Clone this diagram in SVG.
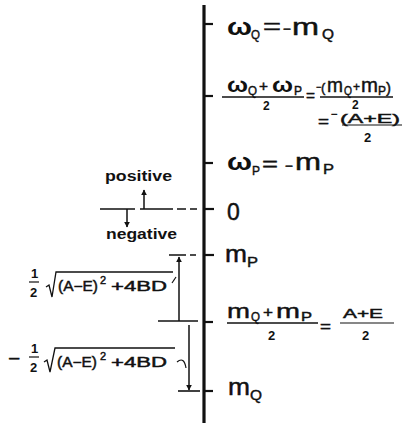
<svg xmlns="http://www.w3.org/2000/svg" width="418" height="426" viewBox="0 0 418 426">
<style>
text{font-family:"Liberation Sans",Arial,sans-serif;fill:#111}
.b{font-weight:bold}
.md{stroke:#111;stroke-width:0.45}
.ln{stroke:#111;fill:none}
.tk{stroke:#111;stroke-width:2.2}
</style>
<defs>
<marker id="ah" viewBox="0 0 10 10" refX="9" refY="5" markerWidth="6" markerHeight="7" orient="auto" markerUnits="userSpaceOnUse">
<path d="M0,0 L10,5 L0,10 z" fill="#111"/>
</marker>
</defs>
<rect width="418" height="426" fill="#fff"/>

<g id="axis">
<line x1="204" y1="5" x2="204" y2="423" stroke="#111" stroke-width="3.2"/>
<line class="tk" x1="204" y1="24" x2="213" y2="24"/>
<line class="tk" x1="204" y1="96" x2="213" y2="96"/>
<line class="tk" x1="204" y1="163" x2="213" y2="163"/>
<line class="tk" x1="204" y1="209" x2="214" y2="209" stroke-width="3"/>
<line class="tk" x1="204" y1="255" x2="214" y2="255"/>
<line class="tk" x1="204" y1="322" x2="213" y2="322"/>
<line class="tk" x1="204" y1="391" x2="213" y2="391"/>
</g>

<g id="omegaQ">
<text class="b" x="227" y="35" font-size="23" textLength="25" lengthAdjust="spacingAndGlyphs">ω</text>
<text class="md" x="251" y="39" font-size="13" textLength="9" lengthAdjust="spacingAndGlyphs">Q</text>
<text class="md" x="263" y="34" font-size="22" textLength="18" lengthAdjust="spacingAndGlyphs">=</text>
<text class="md" x="283" y="34" font-size="15" textLength="8" lengthAdjust="spacingAndGlyphs">−</text>
<text class="md" x="292" y="35" font-size="23" textLength="27" lengthAdjust="spacingAndGlyphs">m</text>
<text class="md" x="322" y="39" font-size="14" textLength="12" lengthAdjust="spacingAndGlyphs">Q</text>
</g>

<g id="mean-omega">
<text class="b" x="227" y="92" font-size="21" textLength="21" lengthAdjust="spacingAndGlyphs">ω</text>
<text class="md" x="248" y="95" font-size="12" textLength="9" lengthAdjust="spacingAndGlyphs">Q</text>
<text class="md" x="259" y="91" font-size="14" textLength="9" lengthAdjust="spacingAndGlyphs">+</text>
<text class="b" x="272" y="92" font-size="21" textLength="21" lengthAdjust="spacingAndGlyphs">ω</text>
<text class="md" x="294" y="95" font-size="12" textLength="8" lengthAdjust="spacingAndGlyphs">P</text>
<line class="ln" x1="222" y1="97" x2="304" y2="97" stroke-width="1.5"/>
<text class="b" x="263" y="110" font-size="12">2</text>
<text class="md" x="306" y="101" font-size="14" textLength="9" lengthAdjust="spacingAndGlyphs">=</text>
<text class="md" x="316" y="90" font-size="9">−</text>
<text class="md" x="321" y="92" font-size="13">(</text>
<text class="md" x="327" y="92" font-size="21" textLength="16" lengthAdjust="spacingAndGlyphs">m</text>
<text class="md" x="344" y="95" font-size="12" textLength="8" lengthAdjust="spacingAndGlyphs">Q</text>
<text class="md" x="353" y="91" font-size="13" textLength="7" lengthAdjust="spacingAndGlyphs">+</text>
<text class="md" x="361" y="92" font-size="21" textLength="17" lengthAdjust="spacingAndGlyphs">m</text>
<text class="md" x="378" y="95" font-size="12" textLength="8" lengthAdjust="spacingAndGlyphs">P</text>
<text class="md" x="386" y="93" font-size="15">)</text>
<line class="ln" x1="320" y1="97" x2="393" y2="97" stroke-width="1.5"/>
<text class="b" x="352" y="109" font-size="12">2</text>
<text class="md" x="318" y="127" font-size="14" textLength="11" lengthAdjust="spacingAndGlyphs">=</text>
<text class="md" x="331" y="118" font-size="11">−</text>
<text class="md" x="340" y="123" font-size="13" textLength="60" lengthAdjust="spacingAndGlyphs">(A+E)</text>
<line class="ln" x1="342" y1="125" x2="402" y2="125" stroke-width="1.2"/>
<text class="b" x="364" y="142" font-size="13">2</text>
</g>

<g id="omegaP">
<text class="b" x="227" y="170" font-size="23" textLength="25" lengthAdjust="spacingAndGlyphs">ω</text>
<text class="md" x="252" y="175" font-size="13" textLength="8" lengthAdjust="spacingAndGlyphs">P</text>
<text class="md" x="262" y="171" font-size="20" textLength="16" lengthAdjust="spacingAndGlyphs">=</text>
<text class="md" x="285" y="171" font-size="15" textLength="8" lengthAdjust="spacingAndGlyphs">−</text>
<text class="md" x="295" y="170" font-size="23" textLength="26" lengthAdjust="spacingAndGlyphs">m</text>
<text class="md" x="323" y="174" font-size="14" textLength="11" lengthAdjust="spacingAndGlyphs">P</text>
</g>

<g id="zero">
<text class="md" x="227" y="220" font-size="23">0</text>
</g>

<g id="mP">
<text class="md" x="225" y="262" font-size="23" textLength="22" lengthAdjust="spacingAndGlyphs">m</text>
<text class="md" x="247" y="267" font-size="15" textLength="11" lengthAdjust="spacingAndGlyphs">P</text>
</g>

<g id="mean-m">
<text class="md" x="227" y="318" font-size="21" textLength="23" lengthAdjust="spacingAndGlyphs">m</text>
<text class="md" x="251" y="321" font-size="12" textLength="9" lengthAdjust="spacingAndGlyphs">Q</text>
<text class="md" x="263" y="317" font-size="14" textLength="10" lengthAdjust="spacingAndGlyphs">+</text>
<text class="md" x="276" y="318" font-size="21" textLength="24" lengthAdjust="spacingAndGlyphs">m</text>
<text class="md" x="301" y="321" font-size="13" textLength="11" lengthAdjust="spacingAndGlyphs">P</text>
<line class="ln" x1="227" y1="323" x2="318" y2="323" stroke-width="1.5"/>
<text class="b" x="268" y="340" font-size="13">2</text>
<text class="md" x="320" y="332" font-size="15" textLength="11" lengthAdjust="spacingAndGlyphs">=</text>
<text class="md" x="343" y="318" font-size="13" textLength="40" lengthAdjust="spacingAndGlyphs">A+E</text>
<line class="ln" x1="340" y1="323" x2="394" y2="323" stroke-width="1.2"/>
<text class="b" x="362" y="340" font-size="13">2</text>
</g>

<g id="mQ">
<text class="md" x="228" y="395" font-size="23" textLength="22" lengthAdjust="spacingAndGlyphs">m</text>
<text class="md" x="250" y="400" font-size="15" textLength="12" lengthAdjust="spacingAndGlyphs">Q</text>
</g>

<g id="sign-labels">
<text class="b" x="105" y="181" font-size="14" textLength="67" lengthAdjust="spacingAndGlyphs">positive</text>
<text class="b" x="106" y="239" font-size="14" textLength="71" lengthAdjust="spacingAndGlyphs">negative</text>
</g>

<g id="plus-root">
<text class="b" x="31" y="278" font-size="13">1</text>
<line class="ln" x1="29" y1="282" x2="39" y2="282" stroke-width="1.2"/>
<text class="b" x="30" y="297" font-size="13">2</text>
<path class="ln" d="M46,287 L49,285 L52,297 L56,272 L173,272" stroke-width="1.3"/>
<text class="md" x="58" y="291" font-size="14" textLength="40" lengthAdjust="spacingAndGlyphs">(A−E)</text>
<text class="md" x="100" y="284" font-size="11">2</text>
<text class="md" x="111" y="291" font-size="14" textLength="56" lengthAdjust="spacingAndGlyphs">+4BD</text>
<line class="ln" x1="172" y1="283" x2="176" y2="277" stroke-width="1.2"/>
</g>

<g id="minus-root">
<text class="md" x="8" y="364" font-size="16" textLength="12" lengthAdjust="spacingAndGlyphs">−</text>
<text class="b" x="31" y="353" font-size="13">1</text>
<line class="ln" x1="29" y1="357" x2="39" y2="357" stroke-width="1.2"/>
<text class="b" x="30" y="372" font-size="13">2</text>
<path class="ln" d="M44,362 L47,360 L50,372 L55,348 L175,348" stroke-width="1.3"/>
<text class="md" x="57" y="367" font-size="14" textLength="40" lengthAdjust="spacingAndGlyphs">(A−E)</text>
<text class="md" x="100" y="360" font-size="11">2</text>
<text class="md" x="111" y="367" font-size="14" textLength="56" lengthAdjust="spacingAndGlyphs">+4BD</text>
<path class="ln" d="M177,362 Q184,356 186,368" stroke-width="1.2"/>
</g>

<g id="level-lines">
<path class="ln" d="M100,209 H135 M140,209 H173 M177,209 H186 M190,209 H197" stroke-width="1.5"/>
<path class="ln" d="M169,255 H186 M190,255 H196" stroke-width="1.5"/>
<line class="ln" x1="158" y1="321" x2="198" y2="321" stroke-width="1.6"/>
<line class="ln" x1="178" y1="391" x2="200" y2="391" stroke-width="1.6"/>
</g>

<g id="connectors">
<line class="ln" x1="144" y1="209" x2="144" y2="190" stroke-width="1.5" marker-end="url(#ah)"/>
<line class="ln" x1="127" y1="209" x2="127" y2="227" stroke-width="1.5" marker-end="url(#ah)"/>
<line class="ln" x1="179" y1="321" x2="179" y2="257" stroke-width="1.5" marker-end="url(#ah)"/>
<line class="ln" x1="189" y1="325" x2="189" y2="390" stroke-width="1.5" marker-end="url(#ah)"/>
</g>
</svg>
